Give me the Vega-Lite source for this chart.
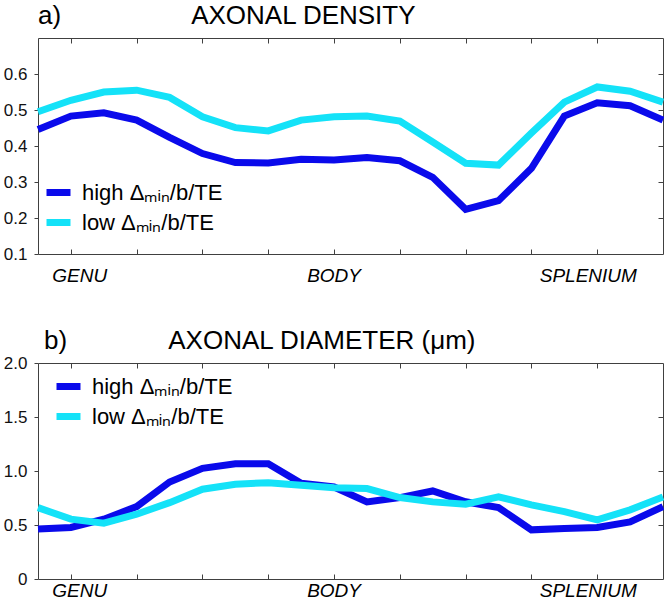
{
  "$schema": "https://vega.github.io/schema/vega-lite/v6.json",
  "background": "white",
  "padding": {"left": 2, "right": 2, "top": 2, "bottom": 0},
  "config": {
    "view": {"stroke": "#404040", "strokeWidth": 1},
    "font": "Liberation Sans",
    "axis": {"domain": false, "grid": false, "title": null, "tickColor": "#404040", "labelColor": "#111111", "labelFont": "Liberation Sans", "labelFontSize": 17},
    "title": {"font": "Liberation Sans", "fontSize": 26, "fontWeight": "normal", "color": "#000000", "anchor": "start", "frame": "group", "baseline": "alphabetic"},
    "legend": {"orient": "none", "title": null, "symbolType": "stroke", "symbolStrokeWidth": 7, "symbolSize": 576, "labelFont": "Liberation Sans", "labelFontSize": 22, "labelColor": "#000000", "padding": 0, "rowPadding": -2, "labelOffset": 8, "labelLimit": 300},
    "concat": {"spacing": 40}
  },
  "datasets": {
    "density": [
      {"pos": 1, "series": "high", "value": 0.446}, {"pos": 2, "series": "high", "value": 0.483}, {"pos": 3, "series": "high", "value": 0.492}, {"pos": 4, "series": "high", "value": 0.472}, {"pos": 5, "series": "high", "value": 0.424},
      {"pos": 6, "series": "high", "value": 0.379}, {"pos": 7, "series": "high", "value": 0.354}, {"pos": 8, "series": "high", "value": 0.353}, {"pos": 9, "series": "high", "value": 0.363}, {"pos": 10, "series": "high", "value": 0.361},
      {"pos": 11, "series": "high", "value": 0.368}, {"pos": 12, "series": "high", "value": 0.359}, {"pos": 13, "series": "high", "value": 0.313}, {"pos": 14, "series": "high", "value": 0.224}, {"pos": 15, "series": "high", "value": 0.248},
      {"pos": 16, "series": "high", "value": 0.338}, {"pos": 17, "series": "high", "value": 0.483}, {"pos": 18, "series": "high", "value": 0.520}, {"pos": 19, "series": "high", "value": 0.512}, {"pos": 20, "series": "high", "value": 0.472},
      {"pos": 1, "series": "low", "value": 0.495}, {"pos": 2, "series": "low", "value": 0.527}, {"pos": 3, "series": "low", "value": 0.550}, {"pos": 4, "series": "low", "value": 0.555}, {"pos": 5, "series": "low", "value": 0.535},
      {"pos": 6, "series": "low", "value": 0.481}, {"pos": 7, "series": "low", "value": 0.451}, {"pos": 8, "series": "low", "value": 0.442}, {"pos": 9, "series": "low", "value": 0.472}, {"pos": 10, "series": "low", "value": 0.481},
      {"pos": 11, "series": "low", "value": 0.483}, {"pos": 12, "series": "low", "value": 0.469}, {"pos": 13, "series": "low", "value": 0.411}, {"pos": 14, "series": "low", "value": 0.352}, {"pos": 15, "series": "low", "value": 0.347},
      {"pos": 16, "series": "low", "value": 0.436}, {"pos": 17, "series": "low", "value": 0.522}, {"pos": 18, "series": "low", "value": 0.564}, {"pos": 19, "series": "low", "value": 0.552}, {"pos": 20, "series": "low", "value": 0.522}
    ],
    "diameter": [
      {"pos": 1, "series": "high", "value": 0.462}, {"pos": 2, "series": "high", "value": 0.477}, {"pos": 3, "series": "high", "value": 0.554}, {"pos": 4, "series": "high", "value": 0.670}, {"pos": 5, "series": "high", "value": 0.898},
      {"pos": 6, "series": "high", "value": 1.025}, {"pos": 7, "series": "high", "value": 1.067}, {"pos": 8, "series": "high", "value": 1.067}, {"pos": 9, "series": "high", "value": 0.886}, {"pos": 10, "series": "high", "value": 0.852},
      {"pos": 11, "series": "high", "value": 0.714}, {"pos": 12, "series": "high", "value": 0.754}, {"pos": 13, "series": "high", "value": 0.815}, {"pos": 14, "series": "high", "value": 0.715}, {"pos": 15, "series": "high", "value": 0.661},
      {"pos": 16, "series": "high", "value": 0.455}, {"pos": 17, "series": "high", "value": 0.467}, {"pos": 18, "series": "high", "value": 0.477}, {"pos": 19, "series": "high", "value": 0.529}, {"pos": 20, "series": "high", "value": 0.670},
      {"pos": 1, "series": "low", "value": 0.661}, {"pos": 2, "series": "low", "value": 0.554}, {"pos": 3, "series": "low", "value": 0.517}, {"pos": 4, "series": "low", "value": 0.600}, {"pos": 5, "series": "low", "value": 0.707},
      {"pos": 6, "series": "low", "value": 0.831}, {"pos": 7, "series": "low", "value": 0.877}, {"pos": 8, "series": "low", "value": 0.892}, {"pos": 9, "series": "low", "value": 0.868}, {"pos": 10, "series": "low", "value": 0.846},
      {"pos": 11, "series": "low", "value": 0.837}, {"pos": 12, "series": "low", "value": 0.754}, {"pos": 13, "series": "low", "value": 0.714}, {"pos": 14, "series": "low", "value": 0.692}, {"pos": 15, "series": "low", "value": 0.760},
      {"pos": 16, "series": "low", "value": 0.686}, {"pos": 17, "series": "low", "value": 0.624}, {"pos": 18, "series": "low", "value": 0.548}, {"pos": 19, "series": "low", "value": 0.640}, {"pos": 20, "series": "low", "value": 0.760}
    ],
    "regions": [
      {"region": "GENU", "pos": 2.27},
      {"region": "BODY", "pos": 10},
      {"region": "SPLENIUM", "pos": 17.73}
    ]
  },
  "vconcat": [
    {
      "width": 625,
      "height": 216,
      "title": {"text": "a)\u00a0\u00a0\u00a0\u00a0\u00a0\u00a0\u00a0\u00a0\u00a0\u00a0\u00a0\u00a0\u00a0\u00a0\u00a0\u00a0\u00a0\u00a0AXONAL DENSITY", "offset": 9},
      "layer": [
        {
          "data": {"name": "density"},
          "mark": {"type": "line", "strokeWidth": 7, "strokeCap": "butt"},
          "encoding": {
            "x": {"field": "pos", "type": "quantitative", "scale": {"domain": [1, 20], "nice": false, "zero": false},
                  "axis": {"orient": "bottom", "values": [2, 4, 6, 8, 10, 12, 14, 16, 18], "labels": false, "tickSize": -5}},
            "y": {"field": "value", "type": "quantitative", "scale": {"domain": [0.1, 0.7], "nice": false, "zero": false},
                  "axis": {"orient": "left", "values": [0.1, 0.2, 0.3, 0.4, 0.5, 0.6], "format": ".1f", "tickSize": 4, "labelPadding": 7}},
            "color": {"field": "series", "type": "nominal",
                      "scale": {"domain": ["high", "low"], "range": ["#0A0AEB", "#14E2F8"]},
                      "legend": {"legendX": 5, "legendY": 139, "labelExpr": "datum.label + ' Δₘᵢₙ/b/TE'"}}
          }
        },
        {
          "data": {"name": "density"},
          "mark": {"type": "line", "opacity": 0},
          "encoding": {
            "x": {"field": "pos", "type": "quantitative", "scale": {"domain": [1, 20], "nice": false, "zero": false},
                  "axis": {"orient": "top", "values": [2, 4, 6, 8, 10, 12, 14, 16, 18], "labels": false, "tickSize": -5}},
            "y": {"field": "value", "type": "quantitative", "scale": {"domain": [0.1, 0.7], "nice": false, "zero": false},
                  "axis": {"orient": "right", "values": [0.2, 0.3, 0.4, 0.5, 0.6], "labels": false, "tickSize": -5}}
          }
        },
        {
          "data": {"name": "regions"},
          "mark": {"type": "text", "fontStyle": "italic", "fontSize": 19, "baseline": "alphabetic", "align": "center", "color": "#000000"},
          "encoding": {
            "x": {"field": "pos", "type": "quantitative", "scale": {"domain": [1, 20], "nice": false, "zero": false}, "axis": null},
            "y": {"datum": 0.022, "type": "quantitative", "scale": {"domain": [0.1, 0.7], "nice": false, "zero": false}, "axis": null},
            "text": {"field": "region"}
          }
        }
      ],
      "resolve": {"axis": {"x": "independent", "y": "independent"}}
    },
    {
      "width": 625,
      "height": 216,
      "title": {"text": "b)\u00a0\u00a0\u00a0\u00a0\u00a0\u00a0\u00a0\u00a0\u00a0\u00a0\u00a0\u00a0\u00a0\u00a0AXONAL DIAMETER (μm)", "offset": 0, "dx": 6},
      "layer": [
        {
          "data": {"name": "diameter"},
          "mark": {"type": "line", "strokeWidth": 7, "strokeCap": "butt"},
          "encoding": {
            "x": {"field": "pos", "type": "quantitative", "scale": {"domain": [1, 20], "nice": false, "zero": false},
                  "axis": {"orient": "bottom", "values": [2, 4, 6, 8, 10, 12, 14, 16, 18], "labels": false, "tickSize": -5}},
            "y": {"field": "value", "type": "quantitative", "scale": {"domain": [0, 2], "nice": false, "zero": false},
                  "axis": {"orient": "left", "values": [0, 0.5, 1, 1.5, 2], "labelExpr": "datum.value == 0 ? '0' : format(datum.value, '.1f')", "tickSize": 4, "labelPadding": 7}},
            "color": {"field": "series", "type": "nominal",
                      "scale": {"domain": ["high", "low"], "range": ["#0A0AEB", "#14E2F8"]},
                      "legend": {"legendX": 15, "legendY": 8, "labelExpr": "datum.label + ' Δₘᵢₙ/b/TE'"}}
          }
        },
        {
          "data": {"name": "diameter"},
          "mark": {"type": "line", "opacity": 0},
          "encoding": {
            "x": {"field": "pos", "type": "quantitative", "scale": {"domain": [1, 20], "nice": false, "zero": false},
                  "axis": {"orient": "top", "values": [2, 4, 6, 8, 10, 12, 14, 16, 18], "labels": false, "tickSize": -5}},
            "y": {"field": "value", "type": "quantitative", "scale": {"domain": [0, 2], "nice": false, "zero": false},
                  "axis": {"orient": "right", "values": [0.5, 1, 1.5], "labels": false, "tickSize": -5}}
          }
        },
        {
          "data": {"name": "regions"},
          "mark": {"type": "text", "fontStyle": "italic", "fontSize": 19, "baseline": "alphabetic", "align": "center", "color": "#000000"},
          "encoding": {
            "x": {"field": "pos", "type": "quantitative", "scale": {"domain": [1, 20], "nice": false, "zero": false}, "axis": null},
            "y": {"datum": -0.17, "type": "quantitative", "scale": {"domain": [0, 2], "nice": false, "zero": false}, "axis": null},
            "text": {"field": "region"}
          }
        }
      ],
      "resolve": {"axis": {"x": "independent", "y": "independent"}}
    }
  ],
  "resolve": {"scale": {"color": "independent"}, "legend": {"color": "independent"}}
}
